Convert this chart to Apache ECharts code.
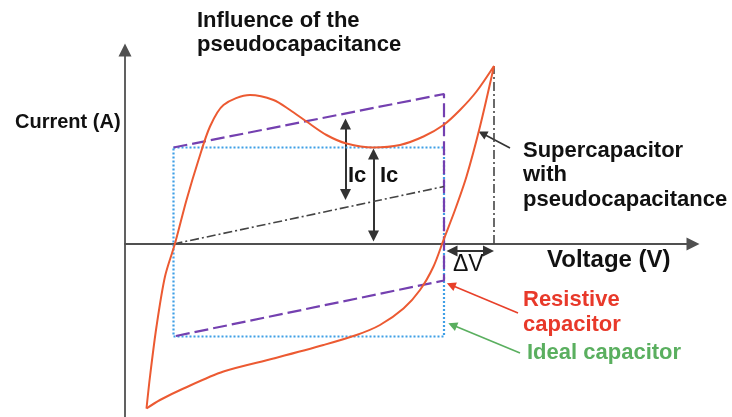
<!DOCTYPE html>
<html>
<head>
<meta charset="utf-8">
<title>Supercapacitor CV</title>
<script src="https://cdn.jsdelivr.net/npm/echarts@6/dist/echarts.min.js"></script>
<style>
  html, body { margin: 0; padding: 0; background: #fff; }
  #chart { width: 732px; height: 417px; }
</style>
</head>
<body>
<div id="chart"></div>
<script>
// axis ranges, arbitrary units
const voltageRange = [0, 11.36];
const currentRange = [-3.46, 3.88];

// ideal capacitor (rectangle)
const idealCap = [[0.97, 1.93], [6.38, 1.93], [6.38, -1.85], [0.97, -1.85], [0.97, 1.93]];
// resistive capacitor (parallelogram)
const resistiveCap = [[0.97, 1.93], [6.38, 3.0], [6.38, -0.73], [0.97, -1.85]];
const midLine = [[0.97, 0], [6.38, 1.15]];
const maxVoltLine = [[7.38, 0], [7.38, 3.56]];

// supercapacitor with pseudocapacitance, charge then discharge
const pseudoCharge = [
  [0.43, -3.29], [0.5, -2.65], [0.63, -1.65], [0.8, -0.65], [1.0, 0.01], [1.23, 0.88],
  [1.47, 1.68], [1.7, 2.35], [1.97, 2.78], [2.5, 2.98], [2.97, 2.88],
  [3.3, 2.68], [3.63, 2.45], [4.03, 2.18], [4.43, 2.01], [4.97, 1.93], [5.5, 1.98],
  [5.97, 2.15], [6.37, 2.38], [6.7, 2.68], [7.03, 3.05], [7.38, 3.56]
];
const pseudoDischarge = [
  [7.38, 3.56], [7.1, 2.35], [6.83, 1.35], [6.6, 0.68], [6.37, 0.08], [6.17, -0.45],
  [5.9, -0.92], [5.57, -1.29], [5.1, -1.62], [4.63, -1.82], [3.97, -2.02], [2.97, -2.29],
  [1.97, -2.55], [1.17, -2.89], [0.7, -3.12], [0.43, -3.29]
];

// double arrows (Ic, Ic, delta V)
const doubleArrows = [
  [[4.41, 2.4], [4.41, 0.99]],
  [[4.97, 1.8], [4.97, 0.16]],
  [[6.54, -0.14], [7.27, -0.14]]
];
// label pointers: from text to curve
const pointerSuper = [[7.7, 1.92], [7.15, 2.21]];
const pointerResistive = [[7.86, -1.38], [6.52, -0.82]];
const pointerIdeal = [[7.9, -2.18], [6.55, -1.62]];

const FONT = '"Liberation Sans", Arial, sans-serif';

let chart = echarts.init(document.getElementById("chart"));

function shape(data, color, type, width) {
  return {
    type: "line",
    data: data,
    showSymbol: false,
    symbol: "none",
    silent: true,
    lineStyle: { color: color, type: type, width: width },
  };
}

function pointer(coords, color) {
  return {
    type: "lines",
    coordinateSystem: "cartesian2d",
    silent: true,
    symbol: ["none", "triangle"],
    symbolSize: 9,
    lineStyle: { color: color, width: 1.6, opacity: 1 },
    data: [{ coords: coords }],
  };
}

function text(str, x, y, size, color, weight, lh) {
  return {
    type: "text",
    x: x,
    y: y,
    style: {
      text: str,
      font: (weight || "bold") + " " + size + "px " + FONT,
      fill: color || "#111",
      lineHeight: lh || size,
      verticalAlign: "middle",
    },
  };
}

let option = {
  animation: false,
  backgroundColor: "#fff",
  grid: { left: 125, right: 39, top: 50, bottom: 0 },
  xAxis: {
    type: "value",
    min: voltageRange[0],
    max: voltageRange[1],
    axisLine: {
      onZero: true,
      symbol: ["none", "triangle"],
      symbolSize: [13, 13],
      lineStyle: { color: "#505050", width: 1.8 },
    },
    axisTick: { show: false },
    axisLabel: { show: false },
    splitLine: { show: false },
  },
  yAxis: {
    type: "value",
    min: currentRange[0],
    max: currentRange[1],
    axisLine: {
      show: true,
      onZero: true,
      symbol: ["none", "triangle"],
      symbolSize: [13, 13],
      lineStyle: { color: "#505050", width: 1.8 },
    },
    axisTick: { show: false },
    axisLabel: { show: false },
    splitLine: { show: false },
  },
  series: [
    shape(idealCap, "#3f9fe6", [2, 2], 2.2),
    shape(resistiveCap, "#7440b0", [14, 5], 2.2),
    shape(midLine, "#444", [9, 3, 2, 3], 1.6),
    shape(maxVoltLine, "#444", [9, 3, 2, 3], 1.6),
    Object.assign(shape(pseudoCharge, "#ec5a32", "solid", 2), { smooth: 0.3 }),
    Object.assign(shape(pseudoDischarge, "#ec5a32", "solid", 2), { smooth: 0.3 }),
    {
      type: "lines",
      coordinateSystem: "cartesian2d",
      silent: true,
      symbol: ["triangle", "triangle"],
      symbolSize: 11,
      lineStyle: { color: "#333", width: 2, opacity: 1 },
      data: doubleArrows.map((c) => ({ coords: c })),
    },
    pointer(pointerSuper, "#333"),
    pointer(pointerResistive, "#e8402a"),
    pointer(pointerIdeal, "#5aaf5f"),
  ],
  graphic: [
    text("Influence of the\npseudocapacitance", 197, 33, 22, "#111", "bold", 23.5),
    text("Current (A)", 15, 122, 20),
    text("Ic", 348, 176, 22),
    text("Ic", 380, 176, 22),
    text("Supercapacitor\nwith\npseudocapacitance", 523, 175, 22, "#111", "bold", 24.5),
    text("Voltage (V)", 547, 260, 24),
    text("\u0394V", 453, 265, 23, "#111", "normal"),
    text("Resistive\ncapacitor", 523, 312, 22, "#e8392a", "bold", 25),
    text("Ideal capacitor", 527, 353, 22, "#5aaf5f"),
  ],
};
chart.setOption(option);
</script>
</body>
</html>
